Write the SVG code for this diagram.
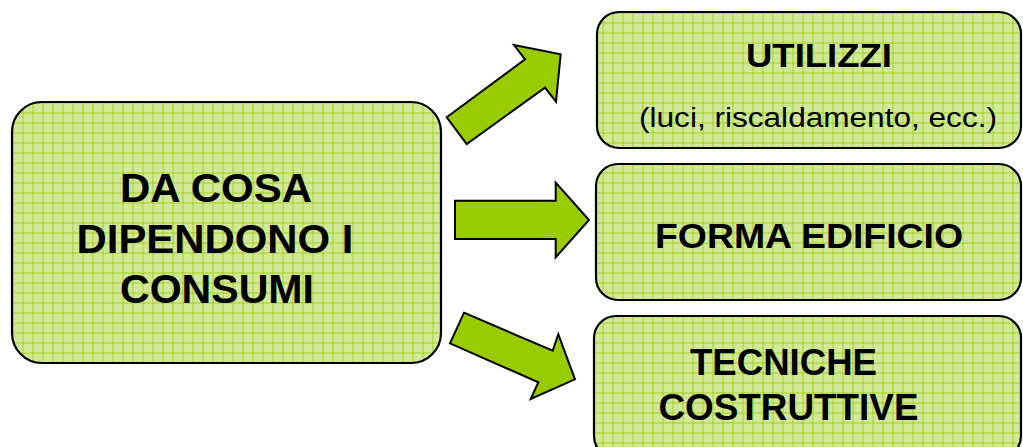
<svg xmlns="http://www.w3.org/2000/svg" width="1023" height="447" viewBox="0 0 1023 447">
  <defs>
    <pattern id="dots" patternUnits="userSpaceOnUse" width="2" height="2">
      <rect width="2" height="2" fill="#d9eca6"/>
      <rect width="1" height="1" fill="#cbe38c"/>
      <rect x="1" y="1" width="1" height="1" fill="#cbe38c"/>
    </pattern>
    <pattern id="grid" patternUnits="userSpaceOnUse" x="2.5" y="2.5" width="10" height="10">
      <rect width="10" height="10" fill="url(#dots)"/>
      <path d="M0.5 0V10M0 0.5H10" stroke="#a4d21e" stroke-width="1"/>
    </pattern>
  </defs>
  <style>
    .box { fill: url(#grid); stroke: #000; stroke-width: 2.2; }
    .arrow { fill: #99cc00; stroke: #000; stroke-width: 2; stroke-linejoin: miter; }
    .b { font-family: "Liberation Sans", Arial, sans-serif; font-weight: bold; fill: #000; text-anchor: middle; }
    .r { font-family: "Liberation Sans", Arial, sans-serif; fill: #000; text-anchor: middle; }
  </style>

  <g id="node-consumi">
    <rect class="box" x="12" y="102" width="429" height="261" rx="30" ry="30"/>
    <text class="b" x="216" y="202" font-size="40" textLength="192" lengthAdjust="spacingAndGlyphs">DA COSA</text>
    <text class="b" x="215" y="252.5" font-size="40" textLength="277" lengthAdjust="spacingAndGlyphs">DIPENDONO I</text>
    <text class="b" x="217" y="303" font-size="40" textLength="194" lengthAdjust="spacingAndGlyphs">CONSUMI</text>
  </g>

  <g id="node-utilizzi">
    <rect class="box" x="597" y="12" width="424" height="136" rx="22" ry="22"/>
    <text class="b" x="819" y="67" font-size="33" textLength="146" lengthAdjust="spacingAndGlyphs">UTILIZZI</text>
    <text class="r" x="818" y="127" font-size="27" textLength="358" lengthAdjust="spacingAndGlyphs">(luci, riscaldamento, ecc.)</text>
  </g>

  <g id="node-forma">
    <rect class="box" x="596" y="164" width="425" height="136" rx="22" ry="22"/>
    <text class="b" x="809" y="248" font-size="35" textLength="308" lengthAdjust="spacingAndGlyphs">FORMA EDIFICIO</text>
  </g>

  <g id="node-tecniche">
    <rect class="box" x="594" y="316" width="427" height="142" rx="22" ry="22"/>
    <text class="b" x="783.5" y="375" font-size="36" textLength="187" lengthAdjust="spacingAndGlyphs">TECNICHE</text>
    <text class="b" x="788.5" y="420" font-size="36" textLength="260" lengthAdjust="spacingAndGlyphs">COSTRUTTIVE</text>
  </g>

  <g id="connectors">
    <polygon class="arrow" points="446.7,117.3 525,59.3 514,45 560.7,54.3 556,101.7 545,87.7 466.7,144"/>
    <polygon class="arrow" points="455,200.7 555.7,200.7 555.7,182.7 589,220 555.7,257.3 555.7,239 455,239"/>
    <polygon class="arrow" points="464,312.7 552.7,350.7 558.3,334.3 575,379.3 530.7,399 538.3,382.3 450,343.3"/>
  </g>
</svg>
